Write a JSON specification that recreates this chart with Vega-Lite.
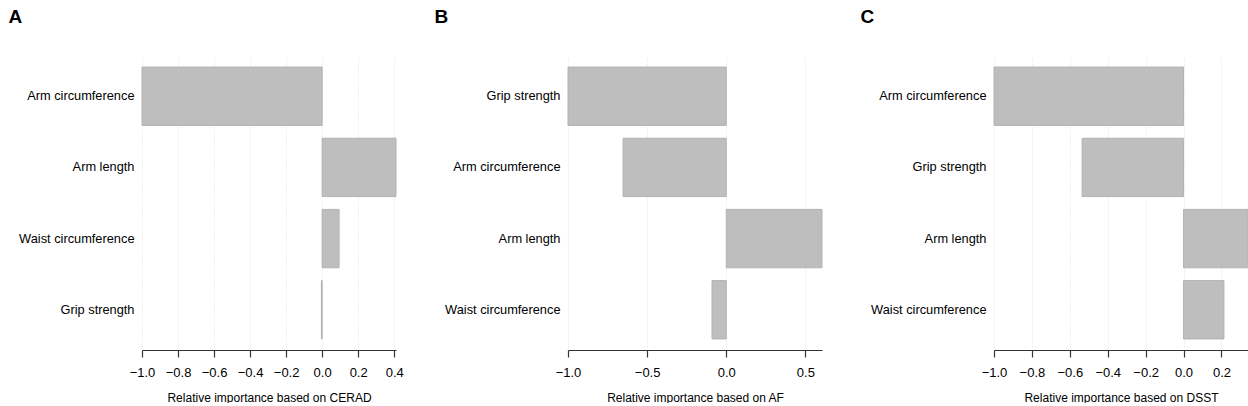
{
  "$schema": "https://vega.github.io/schema/vega-lite/v6.json",
  "background": "white",
  "padding": {"left": 8, "top": 8, "right": 0, "bottom": 0},
  "datasets": {
    "cerad": [
      {"variable": "Arm circumference", "importance": -1.0},
      {"variable": "Arm length", "importance": 0.41},
      {"variable": "Waist circumference", "importance": 0.094},
      {"variable": "Grip strength", "importance": -0.004}
    ],
    "af": [
      {"variable": "Grip strength", "importance": -1.0},
      {"variable": "Arm circumference", "importance": -0.652},
      {"variable": "Arm length", "importance": 0.605},
      {"variable": "Waist circumference", "importance": -0.09}
    ],
    "dsst": [
      {"variable": "Arm circumference", "importance": -1.0},
      {"variable": "Grip strength", "importance": -0.535},
      {"variable": "Arm length", "importance": 0.34},
      {"variable": "Waist circumference", "importance": 0.213}
    ]
  },
  "spacing": 172,
  "bounds": "flush",
  "hconcat": [
    {
      "title": {"text": "A"},
      "width": 254,
      "height": 294,
      "data": {"name": "cerad"},
      "mark": {"type": "bar", "fill": "#bebebe", "stroke": "#b2b2b2", "strokeWidth": 1},
      "encoding": {
        "y": {"field": "variable", "type": "nominal", "sort": null, "title": null,
              "scale": {"paddingInner": 0.18, "paddingOuter": 0.155}},
        "x": {"field": "importance", "type": "quantitative",
              "title": "Relative importance based on CERAD",
              "scale": {"domain": [-1, 0.41], "nice": false, "zero": false},
              "axis": {"values": [-1, -0.8, -0.6, -0.4, -0.2, 0, 0.2, 0.4], "format": ".1f"}}
      }
    },
    {
      "title": {"text": "B"},
      "width": 254,
      "height": 294,
      "data": {"name": "af"},
      "mark": {"type": "bar", "fill": "#bebebe", "stroke": "#b2b2b2", "strokeWidth": 1},
      "encoding": {
        "y": {"field": "variable", "type": "nominal", "sort": null, "title": null,
              "scale": {"paddingInner": 0.18, "paddingOuter": 0.155}},
        "x": {"field": "importance", "type": "quantitative",
              "title": "Relative importance based on AF",
              "scale": {"domain": [-1, 0.605], "nice": false, "zero": false},
              "axis": {"values": [-1, -0.5, 0, 0.5], "format": ".1f"}}
      }
    },
    {
      "title": {"text": "C"},
      "width": 254,
      "height": 294,
      "data": {"name": "dsst"},
      "mark": {"type": "bar", "fill": "#bebebe", "stroke": "#b2b2b2", "strokeWidth": 1},
      "encoding": {
        "y": {"field": "variable", "type": "nominal", "sort": null, "title": null,
              "scale": {"paddingInner": 0.18, "paddingOuter": 0.155}},
        "x": {"field": "importance", "type": "quantitative",
              "title": "Relative importance based on DSST",
              "scale": {"domain": [-1, 0.34], "nice": false, "zero": false},
              "axis": {"values": [-1, -0.8, -0.6, -0.4, -0.2, 0, 0.2], "format": ".1f"}}
      }
    }
  ],
  "config": {
    "font": "Liberation Sans",
    "view": {"stroke": null},
    "title": {"anchor": "start", "frame": "bounds", "fontSize": 19, "fontWeight": "bold",
              "color": "black", "dx": -10, "offset": 29},
    "axisX": {
      "domainColor": "#333333", "domainWidth": 1.2,
      "tickColor": "#333333", "tickSize": 7, "tickWidth": 1.2,
      "labelFontSize": 13, "labelColor": "black", "labelPadding": 9,
      "labelFlush": false, "labelOverlap": false,
      "grid": true, "gridColor": "#dedede", "gridDash": [1, 2], "gridWidth": 1,
      "titleFontSize": 12, "titleFontWeight": "normal", "titleColor": "black", "titlePadding": 13
    },
    "axisY": {
      "domain": false, "ticks": false, "grid": false,
      "labelFontSize": 12.8, "labelColor": "black", "labelPadding": 8
    }
  }
}
